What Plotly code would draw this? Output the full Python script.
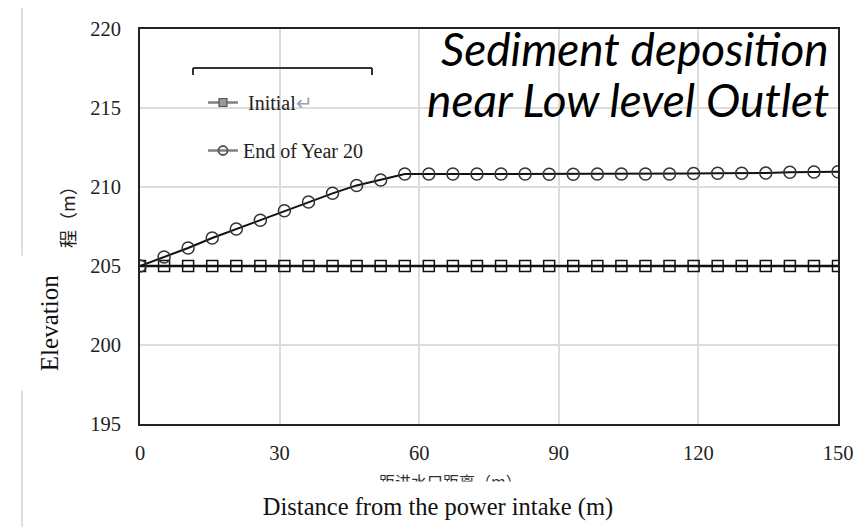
import plotly.graph_objects as go

# ---- data ----
distance = [0, 5.17, 10.34, 15.52, 20.69, 25.86, 31.03, 36.21, 41.38, 46.55,
            51.72, 56.90, 62.07, 67.24, 72.41, 77.59, 82.76, 87.93, 93.10, 98.28,
            103.45, 108.62, 113.79, 118.97, 124.14, 129.31, 134.48, 139.66, 144.83, 150]
initial = [205.0] * 30
year20 = [205.0, 205.57, 206.14, 206.77, 207.34, 207.90, 208.50, 209.05, 209.60, 210.10,
          210.44, 210.82, 210.82, 210.82, 210.82, 210.82, 210.82, 210.81, 210.81, 210.82,
          210.82, 210.82, 210.82, 210.85, 210.87, 210.87, 210.88, 210.93, 210.95, 210.97]
x_ticks = [0, 30, 60, 90, 120, 150]
y_ticks = [195, 200, 205, 210, 215, 220]
series_names = ["Initial", "End of Year 20"]

SERIF = "Liberation Serif, Times New Roman, serif"

# page body has an 8px margin: design in reference pixels, offset the figure
OFF = 8
W, H = 866, 527
L, R, T, B = 140, 838, 29, 424          # plot area in reference pixels
def px(xp): return (xp - L) / (R - L)
def py(yp): return (B - yp) / (B - T)

fig = go.Figure()

# main traces
fig.add_trace(go.Scatter(
    x=distance, y=initial, mode="lines+markers", showlegend=False,
    line=dict(color="#111111", width=2.5),
    marker=dict(symbol="square-open", size=11, color="#111111", line=dict(width=1.5)),
))
fig.add_trace(go.Scatter(
    x=distance, y=year20, mode="lines+markers", showlegend=False,
    line=dict(color="#111111", width=2),
    marker=dict(symbol="circle-open", size=12, color="#333333", line=dict(width=1.5)),
))

# legend entries (grey samples like the reference)
fig.add_trace(go.Scatter(
    x=[None], y=[None], mode="lines+markers", legendgroup="a",
    name=" " + series_names[0] + "<span style='color:#9aa0b0'>↵</span>",
    line=dict(color="#808080", width=2.5),
    marker=dict(symbol="square", size=8, color="#999999", line=dict(color="#555555", width=1.2)),
))
fig.add_trace(go.Scatter(
    x=[None], y=[None], mode="lines+markers", legendgroup="b",
    name=series_names[1],
    line=dict(color="#808080", width=2.5),
    marker=dict(symbol="circle-open", size=9, color="#555555", line=dict(width=1.8)),
))

shapes = [
    # white legend backdrop (hides gridlines)
    dict(type="rect", xref="paper", yref="paper", x0=px(175), x1=px(397), y0=py(182), y1=py(69),
         fillcolor="white", line=dict(width=0), layer="between"),
    # legend bracket
    dict(type="line", xref="paper", yref="paper", x0=px(193), x1=px(372), y0=py(68), y1=py(68),
         line=dict(color="#333333", width=2)),
    dict(type="line", xref="paper", yref="paper", x0=px(193), x1=px(193), y0=py(68), y1=py(75),
         line=dict(color="#333333", width=2)),
    dict(type="line", xref="paper", yref="paper", x0=px(372), x1=px(372), y0=py(68), y1=py(75),
         line=dict(color="#333333", width=2)),
    # pasted-image frame lines
    dict(type="line", xref="paper", yref="paper", x0=px(22), x1=px(22), y0=py(3), y1=py(527),
         line=dict(color="#d4d4d4", width=1.5)),
    dict(type="line", xref="paper", yref="paper", x0=px(22), x1=px(866), y0=py(3), y1=py(3),
         line=dict(color="#d4d4d4", width=1.5)),
]

def ann(text, xp, yp, **kw):
    d = dict(text=text, xref="paper", yref="paper", x=px(xp), y=py(yp),
             xanchor="center", yanchor="middle", showarrow=False)
    d.update(kw)
    return d

annotations = [
    ann("<i>Sediment deposition</i>", 831, 48, xanchor="right",
        font=dict(family="Lato, Open Sans, sans-serif", size=46, color="#000000")),
    ann("<i>near Low level Outlet</i>", 831, 100, xanchor="right",
        font=dict(family="Lato, Open Sans, sans-serif", size=46, color="#000000")),
    # cut-off Chinese labels
    ann("程（m）", 67, 213, textangle=-90,
        font=dict(family="Noto Sans CJK SC", size=18, color="#222222")),
    ann("距进水口距离（m）", 450, 481,
        font=dict(family="Noto Sans CJK SC", size=16, color="#333333")),
    # English axis titles on white patches
    ann("Elevation", 49, 323, textangle=-90, bgcolor="white", width=132, height=60,
        font=dict(family=SERIF, size=25, color="#111111")),
    ann("Distance from the power intake (m)", 438, 507, bgcolor="white", width=430, height=48,
        font=dict(family=SERIF, size=24.5, color="#111111")),
]

axis_common = dict(
    showline=True, linecolor="#222222", linewidth=2, mirror=True,
    showgrid=True, gridcolor="#dcdcdc", gridwidth=1.5, zeroline=False,
    ticks="", tickfont=dict(family=SERIF, size=20.5, color="#222222"),
)

fig.update_layout(
    width=W - OFF, height=H - OFF,
    margin=dict(l=L - OFF, r=W - R, t=T - OFF, b=H - B, autoexpand=False),
    paper_bgcolor="white", plot_bgcolor="white",
    xaxis=dict(range=[0, 150], tickvals=x_ticks, ticklabelstandoff=9, **axis_common),
    yaxis=dict(range=[195, 220], tickvals=y_ticks, ticklabelstandoff=13, **axis_common),
    legend=dict(x=px(203), y=py(83), xanchor="left", yanchor="top",
                bgcolor="rgba(0,0,0,0)", borderwidth=0, tracegroupgap=19,
                font=dict(family=SERIF, size=20, color="#222222")),
    shapes=shapes,
    annotations=annotations,
)

fig.write_html("out.html")
